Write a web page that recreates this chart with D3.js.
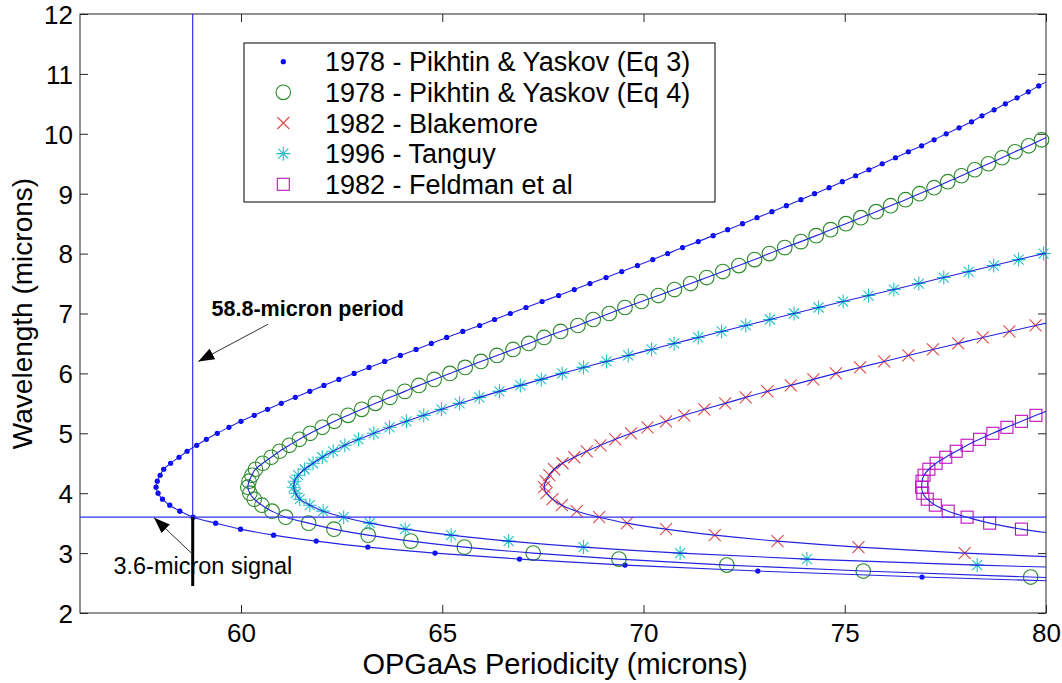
<!DOCTYPE html>
<html>
<head>
<meta charset="utf-8">
<script src="https://cdn.jsdelivr.net/npm/d3@7"></script>
<style>
  body { margin: 0; background: #fff; }
  svg text { font-family: "Liberation Sans", Arial, Helvetica, sans-serif; fill: #000; }
</style>
</head>
<body>
<svg id="chart" width="1062" height="683"></svg>
<script>
// ---------------- DATA ----------------
// wavelength (microns) at each marker, and the OPGaAs period (microns) it needs
const eq3Wavelength = [2.5,2.6,2.7,2.8,2.9,3.0,3.1,3.2,3.3,3.4,3.5,3.6,3.7,3.8,3.9,4.0,
  4.1,4.2,4.3,4.4,4.5,4.6,4.7,4.8,4.9,5.0,5.1,5.2,5.3,5.4,5.5,5.6,5.7,5.8,5.9,6.0,
  6.1,6.2,6.3,6.4,6.5,6.6,6.7,6.8,6.9,7.0,7.1,7.2,7.3,7.4,7.5,7.6,7.7,7.8,7.9,8.0,
  8.1,8.2,8.3,8.4,8.5,8.6,8.7,8.8,8.9,9.0,9.1,9.2,9.3,9.4,9.5,9.6,9.7,9.8,9.9,10.0,
  10.1,10.2,10.3,10.4,10.5,10.6,10.7,10.8,10.9];
const eq3Period = [81.90,76.92,72.84,69.54,66.92,64.82,63.15,61.87,60.81,59.99,59.37,58.81,58.48,58.23,58.05,57.94,
  57.89,57.92,57.99,58.08,58.25,58.46,58.66,58.90,59.14,59.41,59.70,60.00,60.33,60.66,61.00,61.35,61.71,62.06,62.43,62.81,
  63.18,63.57,63.96,64.35,64.73,65.11,65.51,65.93,66.30,66.69,67.08,67.48,67.89,68.28,68.67,69.07,69.46,69.85,70.23,70.60,
  70.97,71.36,71.73,72.09,72.46,72.82,73.19,73.55,73.91,74.25,74.61,74.94,75.27,75.60,75.93,76.26,76.58,76.91,77.22,77.52,
  77.84,78.15,78.41,78.71,78.99,79.28,79.56,79.82,80.10];

const eq4Wavelength = [2.5,2.6,2.7,2.8,2.9,3.0,3.1,3.2,3.3,3.4,3.5,3.6,3.7,3.8,3.9,4.0,
  4.1,4.2,4.3,4.4,4.5,4.6,4.7,4.8,4.9,5.0,5.1,5.2,5.3,5.4,5.5,5.6,5.7,5.8,5.9,6.0,
  6.1,6.2,6.3,6.4,6.5,6.6,6.7,6.8,6.9,7.0,7.1,7.2,7.3,7.4,7.5,7.6,7.7,7.8,7.9,8.0,
  8.1,8.2,8.3,8.4,8.5,8.6,8.7,8.8,8.9,9.0,9.1,9.2,9.3,9.4,9.5,9.6,9.7,9.8,9.9,10.0];
const eq4Period = [84.70,79.62,75.46,72.07,69.39,67.26,65.55,64.22,63.16,62.31,61.68,61.11,60.77,60.52,60.33,60.22,
  60.17,60.20,60.27,60.36,60.54,60.75,60.96,61.20,61.45,61.72,62.02,62.32,62.66,63.00,63.34,63.70,64.07,64.42,64.80,65.19,
  65.57,65.96,66.36,66.76,67.15,67.53,67.94,68.37,68.75,69.15,69.54,69.95,70.37,70.77,71.17,71.57,71.97,72.37,72.76,73.13,
  73.51,73.91,74.29,74.65,75.03,75.40,75.78,76.14,76.51,76.86,77.22,77.56,77.90,78.23,78.57,78.91,79.23,79.57,79.89,80.19];

const blakemoreWavelength = [2.9,3.0,3.1,3.2,3.3,3.4,3.5,3.6,3.7,3.8,3.9,4.0,
  4.1,4.2,4.3,4.4,4.5,4.6,4.7,4.8,4.9,5.0,5.1,5.2,5.3,5.4,5.5,5.6,5.7,5.8,5.9,6.0,
  6.1,6.2,6.3,6.4,6.5,6.6,6.7,6.8,6.9];
const blakemorePeriod = [81.40,77.98,75.34,73.33,71.77,70.56,69.59,68.90,68.34,67.97,67.74,67.59,
  67.53,67.57,67.66,67.78,67.99,68.28,68.59,68.93,69.30,69.69,70.10,70.56,71.01,71.51,72.03,72.54,73.08,73.66,74.22,74.78,
  75.38,75.98,76.58,77.19,77.82,78.43,79.09,79.74,80.40];

const tanguyWavelength = [2.7,2.8,2.9,3.0,3.1,3.2,3.3,3.4,3.5,3.6,3.7,3.8,3.9,4.0,
  4.1,4.2,4.3,4.4,4.5,4.6,4.7,4.8,4.9,5.0,5.1,5.2,5.3,5.4,5.5,5.6,5.7,5.8,5.9,6.0,
  6.1,6.2,6.3,6.4,6.5,6.6,6.7,6.8,6.9,7.0,7.1,7.2,7.3,7.4,7.5,7.6,7.7,7.8,7.9,8.0,8.1];
const tanguyPeriod = [83.50,78.29,74.06,70.91,68.51,66.65,65.22,64.08,63.20,62.55,62.04,61.71,61.46,61.36,
  61.31,61.33,61.42,61.58,61.79,62.02,62.29,62.58,62.92,63.30,63.69,64.11,64.54,64.98,65.43,65.92,66.42,66.94,67.46,67.98,
  68.51,69.08,69.62,70.20,70.76,71.36,71.94,72.54,73.14,73.74,74.35,74.96,75.59,76.22,76.84,77.46,78.08,78.70,79.32,79.94,80.56];

const feldmanWavelength = [3.3,3.4,3.5,3.6,3.7,3.8,3.9,4.0,4.1,4.2,4.3,4.4,4.5,4.6,4.7,4.8,4.9,5.0,5.1,5.2,5.3,5.4];
const feldmanPeriod = [80.50,79.39,78.60,78.04,77.57,77.25,77.05,76.94,76.91,76.92,76.97,77.09,77.27,77.51,77.77,78.04,78.35,78.68,79.03,79.39,79.75,80.12];

const seriesNames = [
  "1978 - Pikhtin & Yaskov (Eq 3)",
  "1978 - Pikhtin & Yaskov (Eq 4)",
  "1982 - Blakemore",
  "1996 - Tanguy",
  "1982 - Feldman et al"
];

const xTicks = [60, 65, 70, 75, 80];
const yTicks = [2, 3, 4, 5, 6, 7, 8, 9, 10, 11, 12];
const xDomain = [56, 80];
const yDomain = [2, 12];

const periodMark = 58.8;      // vertical reference line
const signalMark = 3.6;       // horizontal reference line
const signalDrop = 2.45;      // end of the black segment
const periodLabel = "58.8-micron period";
const signalLabel = "3.6-micron signal";
const xTitle = "OPGaAs Periodicity (microns)";
const yTitle = "Wavelength (microns)";

// ---------------- LAYOUT ----------------
const plot = { left: 80, right: 1046, top: 14, bottom: 613 };
const x = d3.scaleLinear().domain(xDomain).range([plot.left, plot.right]);
const y = d3.scaleLinear().domain(yDomain).range([plot.bottom, plot.top]);

const svg = d3.select("#chart");

svg.append("defs").append("clipPath").attr("id", "plotClip")
  .append("rect")
  .attr("x", plot.left).attr("y", plot.top)
  .attr("width", plot.right - plot.left).attr("height", plot.bottom - plot.top);

svg.select("defs").append("marker")
  .attr("id", "arrowHead")
  .attr("markerUnits", "userSpaceOnUse")
  .attr("viewBox", "0 0 16 12")
  .attr("refX", 16).attr("refY", 6)
  .attr("markerWidth", 16).attr("markerHeight", 12)
  .attr("orient", "auto")
  .append("path").attr("d", "M0,0L16,6L0,12Z").attr("fill", "#000");

// white plot background
svg.append("rect")
  .attr("x", plot.left).attr("y", plot.top)
  .attr("width", plot.right - plot.left).attr("height", plot.bottom - plot.top)
  .attr("fill", "#fff");

// ---------------- AXES ----------------
const axisColor = "#262626";
const tickLen = 8;

const gBottom = svg.append("g").attr("transform", `translate(0,${plot.bottom})`)
  .call(d3.axisBottom(x).tickValues(xTicks).tickSize(-tickLen).tickPadding(11).tickFormat(d3.format("d")));
const gTop = svg.append("g").attr("transform", `translate(0,${plot.top})`)
  .call(d3.axisTop(x).tickValues(xTicks).tickSize(-tickLen).tickFormat(""));
const gLeft = svg.append("g").attr("transform", `translate(${plot.left},0)`)
  .call(d3.axisLeft(y).tickValues(yTicks).tickSize(-tickLen).tickPadding(7).tickFormat(d3.format("d")));
const gRight = svg.append("g").attr("transform", `translate(${plot.right},0)`)
  .call(d3.axisRight(y).tickValues(yTicks).tickSize(-tickLen).tickFormat(""));

[gBottom, gTop, gLeft, gRight].forEach(g => {
  g.select(".domain").remove();
  g.selectAll(".tick line").attr("stroke", axisColor).attr("stroke-width", 1);
  g.selectAll(".tick text").style("font-size", "26px").attr("fill", "#000");
});
gLeft.selectAll(".tick text").attr("dy", "0.36em");

// axes box
svg.append("rect")
  .attr("x", plot.left).attr("y", plot.top)
  .attr("width", plot.right - plot.left).attr("height", plot.bottom - plot.top)
  .attr("fill", "none").attr("stroke", axisColor).attr("stroke-width", 1);

// axis titles
svg.append("text")
  .attr("x", 555).attr("y", 674)
  .attr("text-anchor", "middle")
  .style("font-size", "29px")
  .text(xTitle);

svg.append("text")
  .attr("transform", `translate(32,${(plot.top + plot.bottom) / 2}) rotate(-90)`)
  .attr("text-anchor", "middle")
  .style("font-size", "28px")
  .text(yTitle);

// ---------------- MARKERS ----------------
const markerDefs = [
  { color: "#0000ff", draw: g => g.append("circle").attr("r", 2.6).attr("fill", "#0000ff") },
  { color: "#1f8a1f", draw: g => g.append("circle").attr("r", 7.3).attr("fill", "none").attr("stroke", "#2a8a2a").attr("stroke-width", 1.1) },
  { color: "#e04848", draw: g => g.append("path").attr("d", "M-6,-6L6,6M-6,6L6,-6").attr("fill", "none").attr("stroke", "#e04848").attr("stroke-width", 1.1) },
  { color: "#22c0c8", draw: g => g.append("path").attr("d", "M-7,0H7M0,-7V7M-5,-5L5,5M-5,5L5,-5").attr("fill", "none").attr("stroke", "#22c0c8").attr("stroke-width", 1.1) },
  { color: "#bf10bf", draw: g => g.append("rect").attr("x", -6).attr("y", -6).attr("width", 12).attr("height", 12).attr("fill", "none").attr("stroke", "#bf10bf").attr("stroke-width", 1.1) }
];

const seriesData = [
  [eq3Wavelength, eq3Period],
  [eq4Wavelength, eq4Period],
  [blakemoreWavelength, blakemorePeriod],
  [tanguyWavelength, tanguyPeriod],
  [feldmanWavelength, feldmanPeriod]
].map(([wl, per]) => wl.map((w, i) => ({ w, p: per[i] })));

const lineGen = d3.line()
  .x(d => x(d.p))
  .y(d => y(d.w))
  .curve(d3.curveMonotoneY);

const gMarks = svg.append("g");
const gLines = svg.append("g").attr("clip-path", "url(#plotClip)");

seriesData.forEach((pts, si) => {
  const visible = pts.filter(d => d.p <= xDomain[1] && d.p >= xDomain[0]);
  gMarks.selectAll(null)
    .data(visible)
    .enter()
    .append("g")
    .attr("transform", d => `translate(${x(d.p)},${y(d.w)})`)
    .each(function () { markerDefs[si].draw(d3.select(this)); });

  gLines.append("path")
    .datum(pts)
    .attr("d", lineGen)
    .attr("fill", "none")
    .attr("stroke", "#2424e0")
    .attr("stroke-width", 1.1);
});

// ---------------- REFERENCE LINES & ANNOTATIONS ----------------
const gRef = svg.append("g").attr("clip-path", "url(#plotClip)");
gRef.append("line")
  .attr("x1", x(xDomain[0])).attr("x2", x(xDomain[1]))
  .attr("y1", y(signalMark)).attr("y2", y(signalMark))
  .attr("stroke", "#3030f0").attr("stroke-width", 1.1);
gRef.append("line")
  .attr("x1", x(periodMark)).attr("x2", x(periodMark))
  .attr("y1", y(yDomain[1])).attr("y2", y(signalMark))
  .attr("stroke", "#2020e8").attr("stroke-width", 1.1);
gRef.append("line")
  .attr("x1", x(periodMark)).attr("x2", x(periodMark))
  .attr("y1", y(signalMark)).attr("y2", y(signalDrop))
  .attr("stroke", "#000").attr("stroke-width", 3);

// arrows (data coordinates)
const arrows = [
  { from: [60.67, 6.82], to: [58.94, 6.20] },
  { from: [58.80, 2.98], to: [57.84, 3.59] }
];
svg.append("g").selectAll("line").data(arrows).enter().append("line")
  .attr("x1", d => x(d.from[0])).attr("y1", d => y(d.from[1]))
  .attr("x2", d => x(d.to[0])).attr("y2", d => y(d.to[1]))
  .attr("stroke", "#333").attr("stroke-width", 1)
  .attr("marker-end", "url(#arrowHead)");

svg.append("text")
  .attr("x", x(59.27)).attr("y", y(6.96))
  .style("font-size", "21.5px").style("font-weight", "bold")
  .text(periodLabel);

svg.append("text")
  .attr("x", x(56.83)).attr("y", y(2.65))
  .style("font-size", "23.5px")
  .text(signalLabel);

// ---------------- LEGEND ----------------
const legend = { x: 244, y: 43, w: 471, h: 159, row0: 61.7, step: 30.65, mx: 283.3, tx: 325 };
const gLeg = svg.append("g");
gLeg.append("rect")
  .attr("x", legend.x).attr("y", legend.y)
  .attr("width", legend.w).attr("height", legend.h)
  .attr("fill", "#fff").attr("stroke", "#000").attr("stroke-width", 1);

seriesNames.forEach((name, i) => {
  const cy = legend.row0 + i * legend.step;
  const gm = gLeg.append("g").attr("transform", `translate(${legend.mx},${cy})`);
  markerDefs[i].draw(gm);
  gLeg.append("text")
    .attr("x", legend.tx).attr("y", cy)
    .attr("dy", "0.36em")
    .style("font-size", "27px")
    .text(name);
});
</script>
</body>
</html>
